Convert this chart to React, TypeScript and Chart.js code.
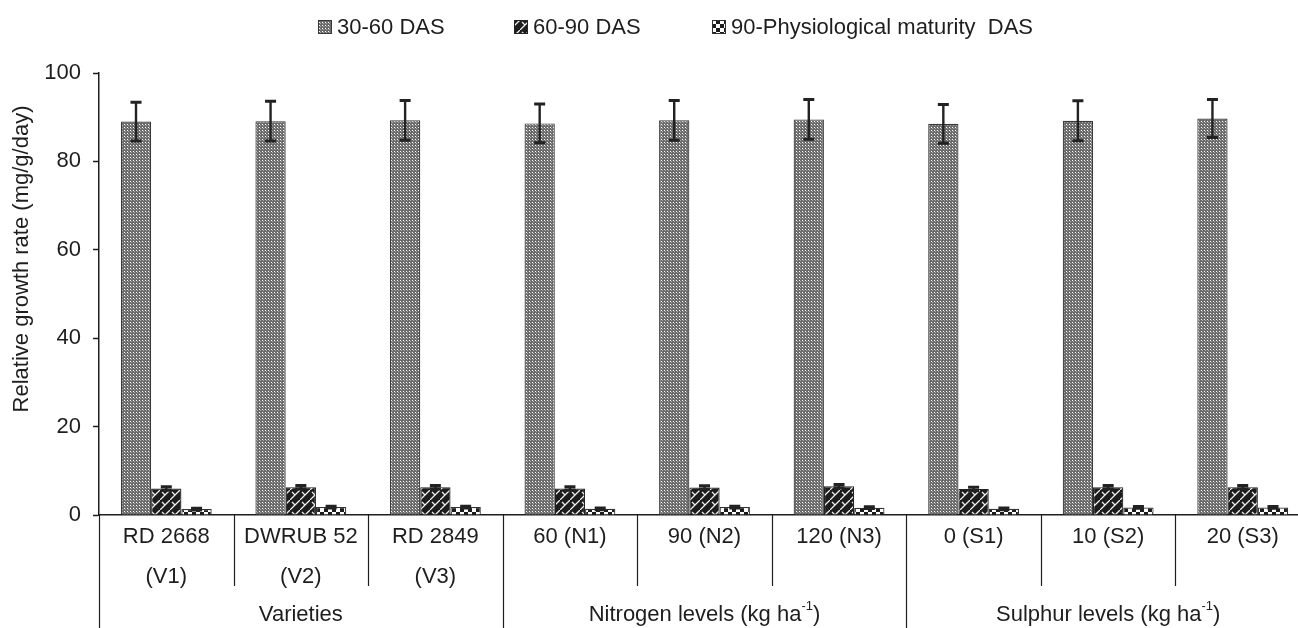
import React, { useEffect, useRef } from "react";
import { Chart, registerables } from "chart.js";

Chart.register(...registerables);

const categories: (string | string[])[] = [
  ["RD 2668", "(V1)"],
  ["DWRUB 52", "(V2)"],
  ["RD 2849", "(V3)"],
  "60 (N1)",
  "90 (N2)",
  "120 (N3)",
  "0 (S1)",
  "10 (S2)",
  "20 (S3)",
];
const groupNames = ["Varieties", "Nitrogen levels (kg ha", "Sulphur levels (kg ha"];
const groupSup = ["", "-1", "-1"];
const groupTail = ["", ")", ")"];
const groupSizes = [3, 3, 3];

const seriesNames = ["30-60 DAS", "60-90 DAS", "90-Physiological maturity  DAS"];
const rgr3060 = [89.0, 89.1, 89.3, 88.6, 89.3, 89.5, 88.5, 89.2, 89.7];
const err3060 = [4.4, 4.5, 4.5, 4.4, 4.5, 4.5, 4.4, 4.5, 4.3];
const rgr6090 = [6.0, 6.3, 6.3, 6.0, 6.2, 6.5, 5.9, 6.3, 6.3];
const err6090 = [0.4, 0.4, 0.4, 0.4, 0.4, 0.4, 0.4, 0.4, 0.4];
const rgrPM = [1.35, 1.8, 1.8, 1.4, 1.8, 1.65, 1.4, 1.7, 1.7];
const errPM = [0.2, 0.2, 0.2, 0.2, 0.2, 0.2, 0.2, 0.2, 0.2];

const yMin = 0;
const yMax = 100;
const yStep = 20;
const yTitle = "Relative growth rate (mg/g/day)";

const FONT = "'Liberation Sans', Arial, Helvetica, sans-serif";
const FS = 22;
const INK = "#1e1e1e";

function makePattern(ctx: CanvasRenderingContext2D, w: number, h: number, draw: (c: CanvasRenderingContext2D) => void) {
  const cv = document.createElement("canvas");
  cv.width = w;
  cv.height = h;
  const c = cv.getContext("2d")!;
  draw(c);
  return ctx.createPattern(cv, "repeat")!;
}

export default function App() {
  const ref = useRef<HTMLCanvasElement>(null);

  useEffect(() => {
    const canvas = ref.current!;
    const ctx = canvas.getContext("2d")!;

    const dotted = makePattern(ctx, 3, 3, (c) => {
      c.fillStyle = "#6c6c6c";
      c.fillRect(0, 0, 3, 3);
      c.fillStyle = "#ffffff";
      c.fillRect(1, 1, 1, 1);
      c.fillStyle = "#a8a8a8";
      c.fillRect(2, 2, 1, 1);
    });
    const hatch = makePattern(ctx, 10, 10, (c) => {
      c.fillStyle = "#1c1c1c";
      c.fillRect(0, 0, 10, 10);
      c.strokeStyle = "#eeeeee";
      c.lineWidth = 1.3;
      c.beginPath();
      c.moveTo(-1, 11);
      c.lineTo(11, -1);
      c.moveTo(2, 2);
      c.lineTo(5, 5);
      c.stroke();
    });
    const checker = makePattern(ctx, 8, 8, (c) => {
      c.fillStyle = "#ffffff";
      c.fillRect(0, 0, 8, 8);
      c.fillStyle = "#1c1c1c";
      c.fillRect(0, 0, 4, 4);
      c.fillRect(4, 4, 4, 4);
    });

    const fills = [dotted, hatch, checker];
    const borders = ["#3a3a3a", "#222222", "#333333"];
    const values = [rgr3060, rgr6090, rgrPM];
    const errors = [err3060, err6090, errPM];

    const errorBars = {
      id: "errorBars",
      afterDatasetsDraw(chart: any) {
        const c = chart.ctx;
        const ys = chart.scales.y;
        c.save();
        c.strokeStyle = "#222";
        chart.data.datasets.forEach((ds: any, di: number) => {
          const meta = chart.getDatasetMeta(di);
          meta.data.forEach((el: any, i: number) => {
            const v = ds.data[i];
            const e = errors[di][i];
            const yt = ys.getPixelForValue(v + e);
            const yb = ys.getPixelForValue(v - e);
            c.lineWidth = 2.4;
            c.beginPath();
            c.moveTo(el.x, yt);
            c.lineTo(el.x, yb);
            c.stroke();
            c.lineWidth = 3;
            c.beginPath();
            c.moveTo(el.x - 5.5, yt);
            c.lineTo(el.x + 5.5, yt);
            c.moveTo(el.x - 5.5, yb);
            c.lineTo(el.x + 5.5, yb);
            c.stroke();
          });
        });
        c.restore();
      },
    };

    const decorations = {
      id: "decorations",
      afterDraw(chart: any) {
        const c = chart.ctx;
        const xs = chart.scales.x;
        const n = categories.length;
        const step = (xs.right - xs.left) / n;
        const bottom = xs.top;
        c.save();
        c.strokeStyle = INK;
        c.lineWidth = 1.2;
        const groupStarts: number[] = [];
        let acc = 0;
        groupSizes.forEach((g) => {
          groupStarts.push(acc);
          acc += g;
        });
        groupStarts.push(acc);
        for (let k = 0; k <= n; k++) {
          const x = Math.round(xs.left + k * step) + 0.5;
          const isGroup = groupStarts.includes(k);
          c.beginPath();
          c.moveTo(x, bottom);
          c.lineTo(x, isGroup ? chart.height : bottom + 71);
          c.stroke();
        }
        // group labels
        c.fillStyle = INK;
        c.textBaseline = "middle";
        groupNames.forEach((name, gi) => {
          const s = groupStarts[gi];
          const e = groupStarts[gi + 1];
          const cx = xs.left + ((s + e) / 2) * step;
          c.font = `${FS}px ${FONT}`;
          const w1 = c.measureText(name).width;
          c.font = `13px ${FONT}`;
          const w2 = c.measureText(groupSup[gi]).width;
          c.font = `${FS}px ${FONT}`;
          const w3 = c.measureText(groupTail[gi]).width;
          const total = w1 + w2 + w3;
          let x = cx - total / 2;
          const y = 615;
          c.textAlign = "left";
          c.fillText(name, x, y);
          x += w1;
          c.font = `13px ${FONT}`;
          c.fillText(groupSup[gi], x, y - 9);
          x += w2;
          c.font = `${FS}px ${FONT}`;
          c.fillText(groupTail[gi], x, y);
        });
        // y title
        c.save();
        c.translate(22, 259);
        c.rotate(-Math.PI / 2);
        c.textAlign = "center";
        c.textBaseline = "middle";
        c.font = `${FS}px ${FONT}`;
        c.fillStyle = INK;
        c.fillText(yTitle, 0, 0);
        c.restore();
        // legend
        const boxes = [318, 514, 712];
        seriesNames.forEach((name, i) => {
          const bx = boxes[i];
          const by = 20;
          c.fillStyle = fills[i];
          c.fillRect(bx, by, 14, 14);
          c.strokeStyle = borders[i];
          c.lineWidth = 1;
          c.strokeRect(bx + 0.5, by + 0.5, 13, 13);
          c.fillStyle = INK;
          c.font = `${FS}px ${FONT}`;
          c.textAlign = "left";
          c.textBaseline = "middle";
          c.fillText(name, bx + 19, by + 8);
        });
        c.restore();
      },
    };

    const chart = new Chart(canvas, {
      type: "bar",
      data: {
        labels: categories,
        datasets: seriesNames.map((name, i) => ({
          label: name,
          data: values[i],
          backgroundColor: fills[i],
          borderColor: borders[i],
          borderWidth: 1.2,
          barPercentage: 1.0,
          categoryPercentage: 0.675,
        })),
      },
      options: {
        responsive: false,
        animation: false,
        layout: { padding: { top: 73, left: 0, right: 0, bottom: 0 } },
        plugins: {
          legend: { display: false },
          tooltip: { enabled: false },
        },
        scales: {
          x: {
            type: "category",
            offset: true,
            grid: { display: false },
            border: { color: INK, width: 1.5 },
            ticks: {
              color: INK,
              font: { family: FONT, size: FS, lineHeight: 40 / FS },
              padding: -6,
              maxRotation: 0,
              autoSkip: false,
            },
            afterFit: (s: any) => {
              s.height = 113;
            },
          },
          y: {
            min: yMin,
            max: yMax,
            grid: { drawOnChartArea: false, tickLength: 6, color: INK, tickWidth: 1.5 },
            border: { color: INK, width: 1.5 },
            ticks: {
              stepSize: yStep,
              color: INK,
              font: { family: FONT, size: FS },
              padding: 12,
            },
            afterFit: (s: any) => {
              s.width = 99;
            },
          },
        },
      },
      plugins: [errorBars, decorations],
    });
    return () => chart.destroy();
  }, []);

  return (
    <div
      style={{
        position: "fixed",
        left: 0,
        top: 0,
        width: 1298,
        height: 628,
        overflow: "hidden",
        background: "#fff",
      }}
    >
      <canvas ref={ref} width={1310} height={628} style={{ display: "block" }} />
    </div>
  );
}
